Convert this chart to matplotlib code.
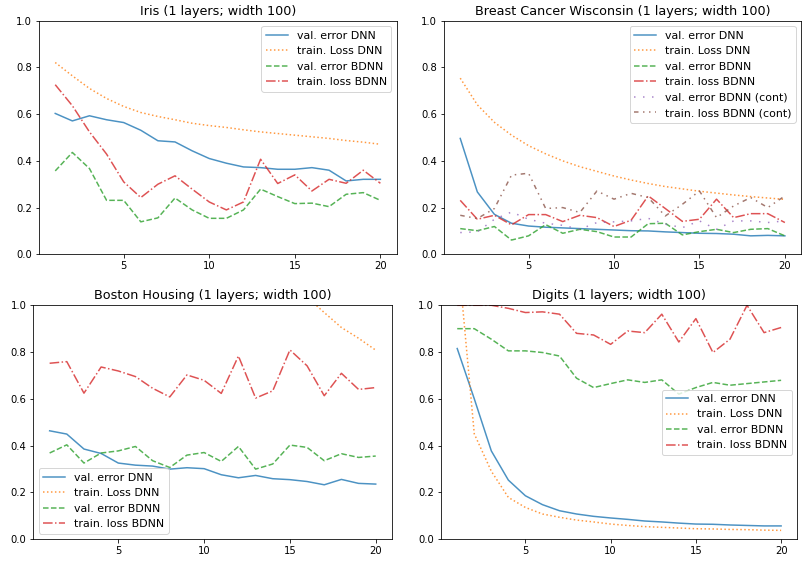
import matplotlib
matplotlib.use('Agg')
import matplotlib.pyplot as plt

epochs = list(range(1, 21))

# Iris
iris_val_dnn = [0.603, 0.571, 0.593, 0.576, 0.564, 0.531, 0.486, 0.481, 0.443, 0.41,
                0.39, 0.374, 0.371, 0.364, 0.364, 0.371, 0.36, 0.314, 0.321, 0.321]
iris_train_dnn = [0.821, 0.764, 0.71, 0.667, 0.633, 0.607, 0.59, 0.576, 0.561, 0.551,
                  0.543, 0.533, 0.524, 0.517, 0.51, 0.503, 0.496, 0.487, 0.48, 0.471]
iris_val_bdnn = [0.357, 0.436, 0.367, 0.231, 0.231, 0.139, 0.156, 0.241, 0.19, 0.154,
                 0.154, 0.19, 0.279, 0.247, 0.217, 0.219, 0.204, 0.257, 0.264, 0.231]
iris_train_bdnn = [0.726, 0.636, 0.524, 0.429, 0.31, 0.243, 0.3, 0.336, 0.279, 0.224,
                   0.19, 0.224, 0.407, 0.303, 0.34, 0.271, 0.321, 0.304, 0.36, 0.304]

# Breast Cancer Wisconsin
bc_val_dnn = [0.496, 0.267, 0.171, 0.133, 0.121, 0.116, 0.113, 0.11, 0.107, 0.104,
              0.101, 0.1, 0.096, 0.093, 0.09, 0.089, 0.086, 0.079, 0.081, 0.079]
bc_train_dnn = [0.754, 0.64, 0.565, 0.51, 0.465, 0.43, 0.40, 0.375, 0.355, 0.335,
                0.318, 0.303, 0.29, 0.28, 0.27, 0.262, 0.254, 0.247, 0.241, 0.235]
bc_val_bdnn = [0.11, 0.101, 0.119, 0.061, 0.079, 0.127, 0.09, 0.107, 0.097, 0.074,
               0.074, 0.131, 0.133, 0.083, 0.097, 0.107, 0.093, 0.107, 0.11, 0.079]
bc_train_bdnn = [0.231, 0.15, 0.167, 0.126, 0.17, 0.17, 0.14, 0.167, 0.157, 0.119,
                 0.146, 0.25, 0.196, 0.141, 0.15, 0.236, 0.157, 0.174, 0.174, 0.136]
bc_val_cont = [0.093, 0.096, 0.15, 0.181, 0.15, 0.133, 0.124, 0.107, 0.136, 0.139,
               0.143, 0.154, 0.129, 0.114, 0.143, 0.107, 0.143, 0.143, 0.136, 0.143]
bc_train_cont = [0.167, 0.153, 0.196, 0.339, 0.347, 0.196, 0.2, 0.179, 0.271, 0.236,
                 0.261, 0.243, 0.164, 0.214, 0.271, 0.157, 0.207, 0.243, 0.2, 0.25]

# Boston Housing
bh_val_dnn = [0.463, 0.449, 0.385, 0.366, 0.325, 0.316, 0.312, 0.299, 0.305, 0.301,
              0.275, 0.262, 0.272, 0.258, 0.254, 0.246, 0.232, 0.255, 0.238, 0.235]
bh_train_dnn = [2.2, 1.9, 1.7, 1.56, 1.46, 1.38, 1.32, 1.27, 1.23, 1.19,
                1.16, 1.13, 1.1, 1.08, 1.06, 1.035, 0.969, 0.905, 0.859, 0.808]
bh_val_bdnn = [0.368, 0.403, 0.325, 0.368, 0.377, 0.396, 0.335, 0.306, 0.359, 0.37,
               0.332, 0.396, 0.299, 0.321, 0.402, 0.392, 0.335, 0.365, 0.349, 0.355]
bh_train_bdnn = [0.752, 0.759, 0.624, 0.736, 0.719, 0.695, 0.645, 0.608, 0.702, 0.679,
                 0.623, 0.783, 0.603, 0.634, 0.809, 0.741, 0.613, 0.709, 0.64, 0.648]

# Digits
dg_val_dnn = [0.815, 0.6, 0.377, 0.252, 0.185, 0.147, 0.121, 0.107, 0.097, 0.09,
              0.084, 0.077, 0.073, 0.068, 0.064, 0.063, 0.06, 0.058, 0.056, 0.056]
dg_train_dnn = [1.25, 0.45, 0.29, 0.178, 0.135, 0.107, 0.093, 0.081, 0.073, 0.064,
                0.058, 0.053, 0.05, 0.047, 0.044, 0.043, 0.041, 0.04, 0.038, 0.037]
dg_val_bdnn = [0.9, 0.9, 0.855, 0.805, 0.805, 0.798, 0.783, 0.688, 0.648, 0.665,
               0.681, 0.67, 0.681, 0.62, 0.648, 0.67, 0.658, 0.665, 0.672, 0.679]
dg_train_bdnn = [1.0, 1.0, 1.0, 0.987, 0.969, 0.972, 0.962, 0.88, 0.873, 0.833,
                 0.89, 0.883, 0.962, 0.843, 0.943, 0.798, 0.855, 1.0, 0.883, 0.905]

plt.rcParams['font.size'] = 10
plt.rcParams['legend.fontsize'] = 11
plt.rcParams['axes.titlesize'] = 12.7

fig = plt.figure(figsize=(807 / 72, 561 / 72), dpi=72)

ax1 = fig.add_axes([0.0483, 0.5467, 0.4432, 0.4164])
ax2 = fig.add_axes([0.5502, 0.5467, 0.4425, 0.4164])
ax3 = fig.add_axes([0.0413, 0.0392, 0.4445, 0.4166])
ax4 = fig.add_axes([0.5465, 0.0392, 0.4415, 0.4166])

a = 0.8  # lignes un peu transparentes comme sur l'original


def base_lines(ax, val_dnn, train_dnn, val_bdnn, train_bdnn):
    ax.plot(epochs, val_dnn, '-', color='C0', alpha=a, label='val. error DNN')
    ax.plot(epochs, train_dnn, ':', color='C1', alpha=a, label='train. Loss DNN')
    ax.plot(epochs, val_bdnn, '--', color='C2', alpha=a, label='val. error BDNN')
    ax.plot(epochs, train_bdnn, '-.', color='C3', alpha=a, label='train. loss BDNN')


base_lines(ax1, iris_val_dnn, iris_train_dnn, iris_val_bdnn, iris_train_bdnn)
ax1.set_title('Iris (1 layers; width 100)')
ax1.legend(loc='upper right')

base_lines(ax2, bc_val_dnn, bc_train_dnn, bc_val_bdnn, bc_train_bdnn)
ax2.plot(epochs, bc_val_cont, linestyle=(0, (1, 5)), color='C4', alpha=a, label='val. error BDNN (cont)')
ax2.plot(epochs, bc_train_cont, linestyle=(0, (3, 3, 1, 3, 1, 3)), color='C5', alpha=a,
         label='train. loss BDNN (cont)')
ax2.set_title('Breast Cancer Wisconsin (1 layers; width 100)')
ax2.legend(loc='upper right')

base_lines(ax3, bh_val_dnn, bh_train_dnn, bh_val_bdnn, bh_train_bdnn)
ax3.set_title('Boston Housing (1 layers; width 100)')
ax3.legend(loc='lower left')

base_lines(ax4, dg_val_dnn, dg_train_dnn, dg_val_bdnn, dg_train_bdnn)
ax4.set_title('Digits (1 layers; width 100)')
ax4.legend(loc='center right')

for ax in [ax1, ax2, ax3, ax4]:
    ax.set_ylim(0, 1)
    ax.set_xticks([5, 10, 15, 20])

fig.savefig('out.png', dpi=72)
